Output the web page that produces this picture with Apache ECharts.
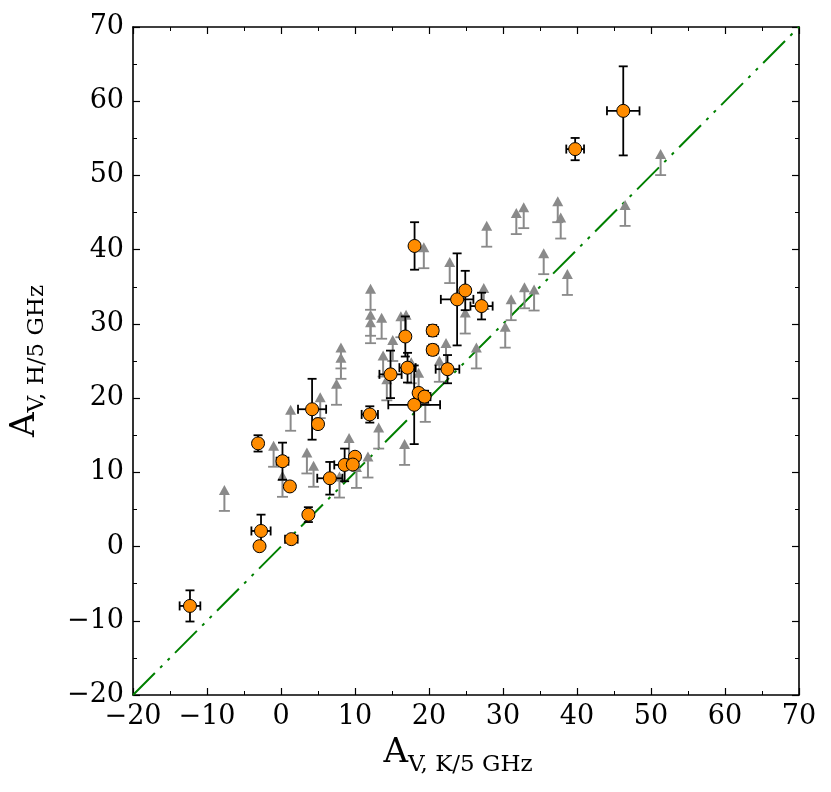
<!DOCTYPE html>
<html>
<head>
<meta charset="utf-8">
<script src="https://cdn.jsdelivr.net/npm/echarts@6/dist/echarts.min.js"></script>
<style>
html,body{margin:0;padding:0;background:#fff;}
#chart{width:831px;height:792px;}
</style>
</head>
<body>
<div id="chart"></div>
<script>
// Detections with error bars: x, y, xerr, yerr
var detX    = [-12.3, -3.1, -2.7, -2.9, 0.2, 1.2, 1.4, 3.7, 4.2, 5.0, 6.6, 8.6, 10.0, 9.7, 12.0, 14.8, 16.8, 17.1, 18.05, 18.0, 18.6, 19.4, 20.5, 20.5, 22.5, 23.8, 24.9, 27.1, 39.75, 46.25];
var detY    = [-8.0, 13.9, 2.1, 0.05, 11.5, 8.1, 1.0, 4.3, 18.5, 16.5, 9.2, 11.0, 12.1, 11.05, 17.8, 23.2, 28.3, 24.1, 40.5, 19.1, 20.7, 20.2, 29.1, 26.5, 23.9, 33.3, 34.5, 32.4, 53.55, 58.7];
var detXerr = [1.4, 0.3, 1.3, 0.3, 0.8, 0.3, 0.85, 0.5, 1.9, 0.4, 1.7, 1.4, 0.5, 0.5, 1.1, 1.5, 0.4, 1.1, 0.4, 3.5, 0.4, 0.8, 0.7, 0.7, 1.6, 2.2, 0.6, 1.5, 1.2, 2.2];
var detYerr = [2.1, 1.1, 2.2, 0.3, 2.5, 0.3, 0.4, 1.0, 4.1, 0.6, 2.2, 2.2, 0.5, 0.5, 1.1, 3.2, 2.7, 2.0, 3.2, 5.3, 0.5, 0.8, 0.75, 0.7, 1.9, 6.2, 2.65, 1.8, 1.5, 6.0];

// Lower limits (gray arrows): x, lower-limit y
var limX = [-7.65, -1.0, 0.2, 1.3, 3.5, 4.4, 5.3, 7.5, 7.9, 8.1, 8.1, 9.2, 10.2, 11.75, 12.1, 12.1, 12.1, 13.2, 13.6, 13.8, 14.3, 15.1, 16.2, 16.9, 16.7, 17.6, 18.6, 19.3, 19.5, 21.4, 22.3, 22.8, 24.9, 26.4, 27.4, 27.8, 30.3, 31.1, 31.8, 32.8, 32.9, 34.2, 35.5, 37.4, 37.8, 38.7, 46.5, 51.3];
var limY = [4.8, 10.75, 6.7, 15.6, 9.85, 8.05, 17.3, 19.1, 6.6, 24.0, 22.6, 11.8, 7.9, 9.3, 31.9, 28.4, 27.4, 13.2, 28.0, 22.9, 19.7, 25.0, 28.2, 28.4, 11.0, 22.0, 20.6, 37.5, 16.8, 22.2, 24.6, 35.5, 28.7, 24.0, 32.0, 40.4, 26.8, 30.5, 42.1, 42.9, 32.1, 31.8, 36.7, 43.7, 41.5, 33.9, 43.2, 50.05];
var limLen = 3.5; // arrow length in data units

// One-to-one line
var oneX = [-20, 70];
var oneY = [-20, 70];

var ticksMin = -20, ticksMax = 70, tickStep = 10;

var detData = detX.map(function(x,i){return [x, detY[i], detXerr[i], detYerr[i]];});
var limData = limX.map(function(x,i){return [x, limY[i]];});
var oneData = oneX.map(function(x,i){return [x, oneY[i]];});

var FONT = 'DejaVu Serif';
function fmt(v){ return String(v).replace('-', '\u2212'); }

function axisCommon(pos, showLabel, isX){
  return {
    type:'value', min:ticksMin, max:ticksMax, interval:tickStep, position:pos,
    axisLine:{show:true, onZero:false, lineStyle:{color:'#000', width:1.6}},
    axisTick:{show:true, inside:true, length:7, lineStyle:{color:'#000', width:1.2}},
    minorTick:{show:true, splitNumber:2, length:4, lineStyle:{color:'#000', width:1}},
    splitLine:{show:false},
    axisLabel:{show:showLabel, formatter:fmt, fontFamily:FONT, fontSize:27, color:'#000', margin: isX?8:9}
  };
}

var xMain = axisCommon('bottom', true, true);
xMain.name = '{a|A}{s|V, K/5 GHz}';
xMain.nameLocation = 'middle';
xMain.nameGap = 41;
xMain.nameTextStyle = {padding:[0,16,0,0], rich:{
  a:{fontFamily:FONT, fontSize:34, color:'#000', verticalAlign:'bottom', padding:[0,0,7,0]},
  s:{fontFamily:FONT, fontSize:23, color:'#000', verticalAlign:'bottom'}
}};
var yMain = axisCommon('left', true, false);
yMain.name = '{a|A}{s|V, H/5 GHz}';
yMain.nameLocation = 'middle';
yMain.nameRotate = 90;
yMain.nameGap = 84;
yMain.nameTextStyle = {rich:{
  a:{fontFamily:FONT, fontSize:34, color:'#000', verticalAlign:'bottom', padding:[0,0,7,0]},
  s:{fontFamily:FONT, fontSize:23, color:'#000', verticalAlign:'bottom'}
}};

var chart = echarts.init(document.getElementById('chart'), null, {renderer:'canvas'});
chart.setOption({
  backgroundColor:'#fff',
  animation:false,
  grid:{left:131, right:32, top:27, bottom:97, containLabel:false},
  xAxis:[xMain, axisCommon('top', false, true)],
  yAxis:[yMain, axisCommon('right', false, false)],
  series:[
    {
      type:'line', data:oneData, xAxisIndex:0, yAxisIndex:0, symbol:'none', z:1,
      lineStyle:{color:'#008000', width:2, type:[31,7.5,3,7.5,3,7.5]}
    },
    {
      type:'custom', data:limData, xAxisIndex:0, yAxisIndex:0, z:2,
      renderItem:function(params, api){
        var x = api.value(0), y = api.value(1);
        var b = api.coord([x, y]);
        var t = api.coord([x, y + limLen]);
        var col = '#8a8a8a';
        var headH = 10, headW = 5.5;
        return {type:'group', children:[
          {type:'line', shape:{x1:b[0]-5.5, y1:b[1], x2:b[0]+5.5, y2:b[1]}, style:{stroke:col, lineWidth:1.8}},
          {type:'line', shape:{x1:b[0], y1:b[1], x2:b[0], y2:t[1]+headH-1}, style:{stroke:col, lineWidth:2}},
          {type:'polygon', shape:{points:[[t[0], t[1]], [t[0]-headW, t[1]+headH], [t[0]+headW, t[1]+headH]]}, style:{fill:col}}
        ]};
      }
    },
    {
      type:'custom', data:detData, xAxisIndex:0, yAxisIndex:0, z:3,
      renderItem:function(params, api){
        var x = api.value(0), y = api.value(1), xe = api.value(2), ye = api.value(3);
        var c = api.coord([x, y]);
        var l = api.coord([x - xe, y]), r = api.coord([x + xe, y]);
        var tp = api.coord([x, y + ye]), bt = api.coord([x, y - ye]);
        var cap = 4.5, st = {stroke:'#000', lineWidth:1.8};
        return {type:'group', children:[
          {type:'line', shape:{x1:l[0], y1:c[1], x2:r[0], y2:c[1]}, style:st},
          {type:'line', shape:{x1:c[0], y1:tp[1], x2:c[0], y2:bt[1]}, style:st},
          {type:'line', shape:{x1:l[0], y1:c[1]-cap, x2:l[0], y2:c[1]+cap}, style:st},
          {type:'line', shape:{x1:r[0], y1:c[1]-cap, x2:r[0], y2:c[1]+cap}, style:st},
          {type:'line', shape:{x1:c[0]-cap, y1:tp[1], x2:c[0]+cap, y2:tp[1]}, style:st},
          {type:'line', shape:{x1:c[0]-cap, y1:bt[1], x2:c[0]+cap, y2:bt[1]}, style:st}
        ]};
      }
    },
    {
      type:'scatter', data:detData.map(function(d){return [d[0], d[1]];}), xAxisIndex:0, yAxisIndex:0, z:4,
      symbol:'circle', symbolSize:13,
      itemStyle:{color:'#ff8c00', borderColor:'#000', borderWidth:1, opacity:1}
    }
  ]
});
</script>
</body>
</html>
